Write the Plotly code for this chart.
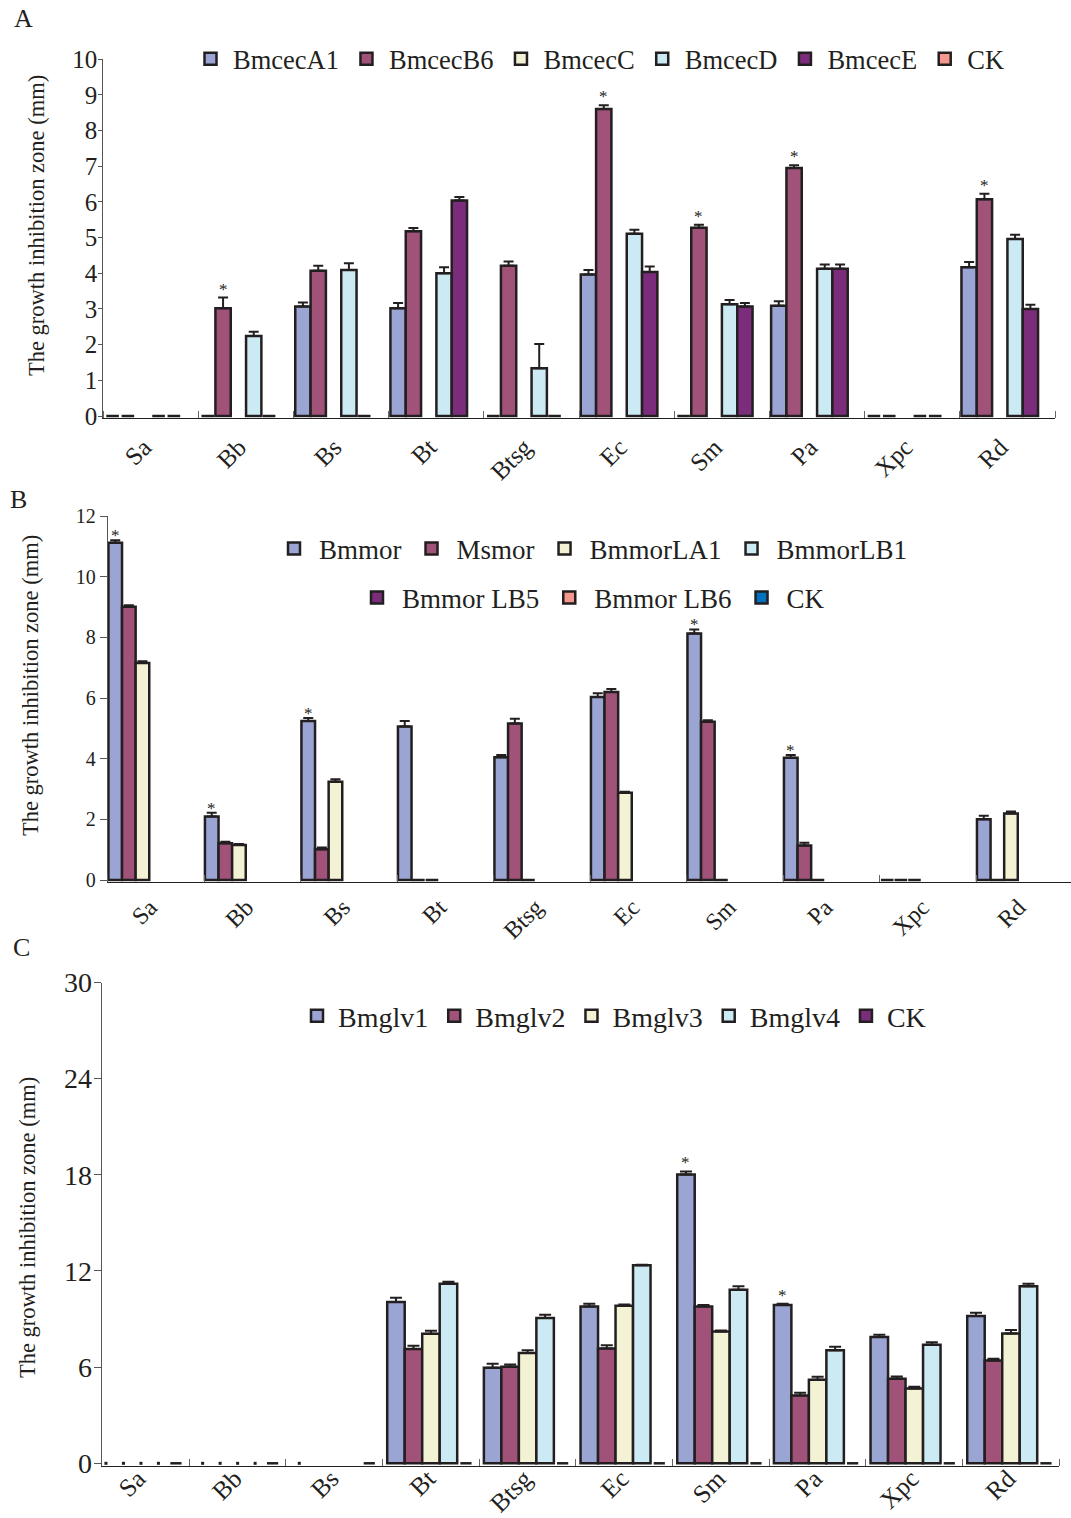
import plotly.graph_objects as go

W, H = 1071, 1518
FONT = "Liberation Serif"
INK = "#231f20"

categories = ["Sa", "Bb", "Bs", "Bt", "Btsg", "Ec", "Sm", "Pa", "Xpc", "Rd"]

# ---------------- Panel A ----------------
a_names = ["BmcecA1", "BmcecB6", "BmcecC", "BmcecD", "BmcecE", "CK"]
a_colors = ["#9aa5d3", "#a05278", "#f3f2d4", "#cbeaf4", "#7b2d7b", "#f4978e"]
a_A1 = [0, 0, 3.07, 3.02, 0, 3.97, 0, 3.09, 0, 4.17]
a_A1_err = [0, 0, 0.11, 0.15, 0, 0.12, 0, 0.13, 0, 0.15]
a_B6 = [0, 3.02, 4.07, 5.18, 4.21, 8.61, 5.28, 6.95, 0, 6.08]
a_B6_err = [0, 0.30, 0.14, 0.09, 0.12, 0.10, 0.08, 0.08, 0, 0.15]
a_C = [None, None, None, None, None, None, None, None, None, None]
a_C_err = [None, None, None, None, None, None, None, None, None, None]
a_D = [0, 2.24, 4.09, 4.00, 1.34, 5.11, 3.13, 4.13, 0, 4.96]
a_D_err = [0, 0.12, 0.19, 0.17, 0.68, 0.11, 0.12, 0.12, 0, 0.12]
a_E = [0, 0, 0, 6.04, 0, 4.04, 3.07, 4.13, 0, 3.00]
a_E_err = [0, 0, 0, 0.10, 0, 0.15, 0.10, 0.12, 0, 0.12]
a_CK = [None, None, None, None, None, None, None, None, None, None]
a_CK_err = [None, None, None, None, None, None, None, None, None, None]
a_star_series = "BmcecB6"
a_star_cats = ["Bb", "Ec", "Sm", "Pa", "Rd"]
a_yticks = [0, 1, 2, 3, 4, 5, 6, 7, 8, 9, 10]

# ---------------- Panel B ----------------
b_names = ["Bmmor", "Msmor", "BmmorLA1", "BmmorLB1", "Bmmor LB5", "Bmmor LB6", "CK"]
b_colors = ["#9aa5d3", "#a05278", "#f3f2d4", "#cbeaf4", "#7b2d7b", "#f4978e", "#0070c0"]
b_Bmmor = [11.12, 2.09, 5.24, 5.06, 4.05, 6.03, 8.13, 4.03, 0, 2.00]
b_Bmmor_err = [0.08, 0.13, 0.10, 0.18, 0.07, 0.13, 0.13, 0.09, 0, 0.12]
b_Msmor = [9.01, 1.21, 1.01, 0, 5.16, 6.20, 5.22, 1.14, 0, 0]
b_Msmor_err = [0.05, 0.05, 0.06, 0, 0.16, 0.10, 0.05, 0.09, 0, 0]
b_LA1 = [7.15, 1.15, 3.24, 0, 0, 2.88, 0, 0, 0, 2.19]
b_LA1_err = [0.06, 0.04, 0.08, 0, 0, 0.03, 0, 0, 0, 0.07]
b_LB1 = [None, None, None, None, None, None, None, None, None, None]
b_LB5 = [None, None, None, None, None, None, None, None, None, None]
b_LB6 = [None, None, None, None, None, None, None, None, None, None]
b_CK = [None, None, None, None, None, None, None, None, None, None]
b_none_err = [None, None, None, None, None, None, None, None, None, None]
b_star_series = "Bmmor"
b_star_cats = ["Sa", "Bb", "Bs", "Sm", "Pa"]
b_yticks = [0, 2, 4, 6, 8, 10, 12]

# ---------------- Panel C ----------------
c_names = ["Bmglv1", "Bmglv2", "Bmglv3", "Bmglv4", "CK"]
c_colors = ["#9aa5d3", "#a05278", "#f3f2d4", "#cbeaf4", "#7b2d7b"]
c_v1 = [0, 0, 0, 10.06, 5.96, 9.79, 18.02, 9.88, 7.88, 9.19]
c_v1_err = [0, 0, 0, 0.27, 0.25, 0.17, 0.19, 0.08, 0.14, 0.21]
c_v2 = [0, 0, None, 7.13, 6.02, 7.17, 9.79, 4.23, 5.27, 6.42]
c_v2_err = [0, 0, None, 0.20, 0.15, 0.20, 0.08, 0.17, 0.15, 0.10]
c_v3 = [0, 0, None, 8.08, 6.88, 9.83, 8.23, 5.21, 4.67, 8.10]
c_v3_err = [0, 0, None, 0.19, 0.18, 0.08, 0.06, 0.19, 0.10, 0.21]
c_v4 = [0, 0, None, 11.21, 9.06, 12.35, 10.83, 7.06, 7.40, 11.04]
c_v4_err = [0, 0, None, 0.12, 0.21, 0.04, 0.21, 0.21, 0.16, 0.17]
c_CK = [0, 0, 0, 0, 0, 0, 0, 0, 0, 0]
c_CK_err = [0, 0, 0, 0, 0, 0, 0, 0, 0, 0]
c_star_series = "Bmglv1"
c_star_cats = ["Sm", "Pa"]
c_yticks = [0, 6, 12, 18, 24, 30]

fig = go.Figure()
annotations = []
xidx = list(range(len(categories)))


def ydomain(zero_px, top_px, ymax, pad):
    unit = (zero_px - top_px) / ymax
    bottom = zero_px + pad * unit
    return [1 - bottom / H, 1 - top_px / H]


def add_panel(names, colors, vals, errs, legends, ax, slot, cap, star_series, star_cats,
              zero_style, star_shift):
    n = len(names)
    base = -n * slot / 2
    xa = "x" + ax
    ya = "y" + ax
    for i, (nm, col, v, e, lg) in enumerate(zip(names, colors, vals, errs, legends)):
        off = base + i * slot
        yv = [None if val == 0 else val for val in v]
        ev = [None if (val is None or val == 0) else er for val, er in zip(v, e)]
        dx = [k + off + slot / 2 for k, val in zip(xidx, v) if val == 0]
        if dx:
            sym, size = zero_style.get(nm, ("line-ew", 9))
            fig.add_trace(go.Scatter(
                x=dx, y=[0] * len(dx), mode="markers", showlegend=False,
                marker=dict(symbol=sym, size=size, color=INK,
                            line=dict(color=INK, width=2.5 if sym == "line-ew" else 0)),
                xaxis=xa, yaxis=ya, cliponaxis=False, hoverinfo="skip"))
        fig.add_trace(go.Bar(
            x=xidx, y=yv, name=nm, width=slot, offset=off, legend=lg,
            marker=dict(color=col, line=dict(color=INK, width=2.5)),
            error_y=dict(type="data", symmetric=False, array=ev,
                         arrayminus=[0 if x is not None else None for x in ev],
                         color=INK, thickness=2, width=cap),
            xaxis=xa, yaxis=ya))
        if nm == star_series:
            for k, c in enumerate(categories):
                if c in star_cats:
                    annotations.append(dict(
                        x=k + off + slot / 2, y=v[k] + (e[k] or 0), xref=xa, yref=ya,
                        text="*", showarrow=False, yanchor="bottom", yshift=star_shift,
                        font=dict(family=FONT, size=17, color=INK)))


add_panel(a_names, a_colors, [a_A1, a_B6, a_C, a_D, a_E, a_CK],
          [a_A1_err, a_B6_err, a_C_err, a_D_err, a_E_err, a_CK_err],
          ["legend"] * 6, "", 0.161, 5, a_star_series, a_star_cats, {}, -3)
add_panel(b_names, b_colors, [b_Bmmor, b_Msmor, b_LA1, b_LB1, b_LB5, b_LB6, b_CK],
          [b_Bmmor_err, b_Msmor_err, b_LA1_err, b_none_err, b_none_err, b_none_err, b_none_err],
          ["legend2"] * 4 + ["legend3"] * 3, "2", 0.141, 5, b_star_series, b_star_cats, {}, -7)
add_panel(c_names, c_colors, [c_v1, c_v2, c_v3, c_v4, c_CK],
          [c_v1_err, c_v2_err, c_v3_err, c_v4_err, c_CK_err],
          ["legend4"] * 5, "3", 0.181, 6, c_star_series, c_star_cats,
          {"Bmglv1": ("square", 3), "Bmglv2": ("square", 3), "Bmglv3": ("square", 3),
           "Bmglv4": ("square", 3), "CK": ("line-ew", 8)}, -3)

boundaries = [k - 0.5 for k in range(len(categories) + 1)]


def xaxis_cfg(left_px, right_px, rng, anchor, fsize, shift, standoff):
    return dict(domain=[left_px / W, right_px / W], range=rng, anchor=anchor,
                tickmode="array", tickvals=xidx, ticktext=categories, tickangle=-45,
                ticks="", showline=True, linecolor=INK, linewidth=1, showgrid=False,
                zeroline=False, ticklabelstandoff=standoff, ticklabelshift=shift,
                tickfont=dict(family=FONT, size=fsize, color=INK),
                minor=dict(tickmode="array", tickvals=boundaries, ticks="inside",
                           ticklen=7, tickcolor="#666", tickwidth=1, showgrid=False))


def yaxis_cfg(dom, rng, ticks, anchor, fsize, tlen, standoff):
    return dict(domain=dom, range=rng, anchor=anchor, tickmode="array", tickvals=ticks,
                ticks="outside", ticklen=tlen, tickcolor="#555", showline=True,
                linecolor="#555", linewidth=1, showgrid=False, zeroline=False,
                ticklabelstandoff=standoff,
                tickfont=dict(family=FONT, size=fsize, color=INK))


ytitle = "The growth inhibition zone (mm)"
for tx, ty in [(37, 226), (30, 686), (27, 1228)]:
    annotations.append(dict(x=tx / W, y=1 - ty / H, xref="paper", yref="paper",
                            text=ytitle, textangle=-90, showarrow=False,
                            xanchor="center", yanchor="middle",
                            font=dict(family=FONT, size=22.5, color=INK)))

panel_labels = [("A", 23, 18), ("B", 18, 500), ("C", 21, 948)]
for t, px, py in panel_labels:
    annotations.append(dict(x=px / W, y=1 - py / H, xref="paper", yref="paper",
                            text=t, showarrow=False, xanchor="center", yanchor="middle",
                            font=dict(family=FONT, size=26, color=INK)))


def legend_cfg(px, py, fsize, iw):
    return dict(orientation="h", xanchor="left", yanchor="middle",
                x=px / W, y=1 - py / H, itemwidth=iw,
                bgcolor="rgba(0,0,0,0)", borderwidth=0,
                font=dict(family=FONT, size=fsize, color=INK))


fig.update_layout(
    width=W, height=H, margin=dict(l=0, r=0, t=0, b=0, autoexpand=False),
    paper_bgcolor="white", plot_bgcolor="white", barmode="overlay", showlegend=True,
    xaxis=xaxis_cfg(103.3, 1055, [-0.5, 9.5], "y", 25, -7, 4),
    yaxis=yaxis_cfg(ydomain(416, 59.3, 10, 0.05), [-0.05, 10], a_yticks, "x", 25, 4, -4),
    xaxis2=xaxis_cfg(107.8, W, [-0.5, 9.481], "y2", 24, -6, 1),
    yaxis2=yaxis_cfg(ydomain(880, 516, 12, 0.06), [-0.06, 12], b_yticks, "x2", 20, 7, 0),
    xaxis3=xaxis_cfg(101.7, 1059.3, [-0.406, 9.5], "y3", 25.5, -3, -13),
    yaxis3=yaxis_cfg(ydomain(1463.3, 982.5, 30, 0.15), [-0.15, 30], c_yticks, "x3", 28, 7, -4),
    legend=legend_cfg(188, 59, 26.5, 35),
    legend2=legend_cfg(269, 549, 27, 40),
    legend3=legend_cfg(352, 598, 27, 40),
    legend4=legend_cfg(296, 1016, 28, 32),
    annotations=annotations,
)

fig.write_html("out.html", config={"displayModeBar": False},
               post_script="document.body.style.margin='0';"
                           "document.body.style.overflow='hidden';")
